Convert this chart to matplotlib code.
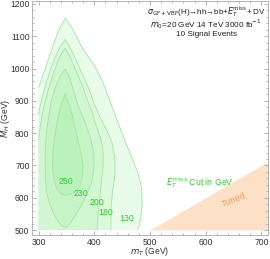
import matplotlib
matplotlib.use("Agg")
import matplotlib.pyplot as plt
from matplotlib.ticker import MultipleLocator

plt.rcParams['font.family'] = ['Liberation Sans', 'DejaVu Sans']
plt.rcParams['mathtext.fontset'] = 'dejavusans'

# ---- data: contour lines (mT, MH) ----
levels = [130, 180, 200, 230, 250]

# open contours: from left edge (mT=300) over the peak down to the bottom (MH=500)
mt_130 = [300, 308, 320, 334, 341, 348, 362, 380, 400, 415, 428, 440, 452, 466, 478, 485, 486, 483, 478]
mh_130 = [940, 980, 1040, 1110, 1135, 1156, 1120, 1060, 1010, 960, 900, 845, 790, 730, 680, 630, 580, 530, 500]

mt_180 = [300, 305, 313, 322, 331, 340, 348, 358, 370, 382, 392, 400, 410, 422, 432, 437, 437, 433, 430, 430]
mh_180 = [860, 900, 950, 1000, 1040, 1070, 1090, 1060, 1015, 970, 930, 890, 850, 810, 770, 720, 670, 620, 570, 500]

mt_200 = [300, 303, 308, 315, 324, 334, 342, 348, 358, 368, 378, 386, 395, 404, 412, 416, 416, 413, 410, 407, 405]
mh_200 = [780, 820, 870, 920, 970, 1020, 1050, 1063, 1030, 990, 950, 910, 870, 820, 780, 740, 700, 650, 600, 550, 500]

# closed contours
mt_230 = [348, 356, 363, 372, 384, 394, 399, 400, 396, 388, 378, 366, 356, 350,
          340, 330, 320, 314, 312, 312, 314, 318, 323, 330, 338]
mh_230 = [998, 970, 930, 880, 830, 780, 740, 700, 650, 615, 580, 545, 518, 508,
          515, 540, 580, 620, 680, 740, 800, 850, 900, 940, 975]

mt_250 = [348, 354, 360, 366, 372, 377, 380, 379, 374, 366, 356, 348,
          340, 332, 327, 325, 326, 330, 335, 341]
mh_250 = [921, 895, 860, 815, 770, 730, 700, 665, 635, 618, 610, 608,
          613, 630, 660, 700, 750, 800, 850, 890]

label_mt = [458, 421, 405, 376, 350]
label_mh = [537, 555, 586, 614, 651]

# tuned region: MH < mT, MH >= 500
tuned_mt = [500, 712]

fill_colors = ['#e9fbe9', '#dcf9dc', '#d1f6d1', '#c6f4c6', '#bbf1bb']
line_color = '#a0e8a0'

fig = plt.figure(figsize=(2.70, 2.59), dpi=100)
ax = fig.add_axes([0.120, 0.0927, 0.873, 0.902])

# tuned region
ax.fill_between(tuned_mt, [500, 500], tuned_mt, color='#fde1c6', lw=0, zorder=1)

open_sets = [(mt_130, mh_130), (mt_180, mh_180), (mt_200, mh_200)]
for (mt, mh), fc in zip(open_sets, fill_colors[:3]):
    ax.fill(list(mt) + [300], list(mh) + [500], color=fc, lw=0, zorder=2)
    ax.plot(mt, mh, color=line_color, lw=0.6, zorder=3)

closed_sets = [(mt_230, mh_230), (mt_250, mh_250)]
for (mt, mh), fc in zip(closed_sets, fill_colors[3:]):
    ax.fill(mt, mh, color=fc, lw=0, zorder=2)
    ax.plot(list(mt) + [mt[0]], list(mh) + [mh[0]], color=line_color, lw=0.6, zorder=3)

for lv, x, y in zip(levels, label_mt, label_mh):
    ax.text(x, y, str(lv), color='#2ecc2e', fontsize=6.3, ha='center', va='center', zorder=4)

ax.text(590, 648, r'$E_T^{\rm miss}$ Cut in GeV', color='#3acc3a', fontsize=6.3,
        ha='center', va='center', zorder=4)
ax.text(650, 592, 'Tuned', color='#f0a060', fontsize=6.6, rotation=22,
        ha='center', va='center', zorder=4)

ax.text(601, 1177, r'$\sigma_{\rm GF+VBF}$(H)→hh→bb+$E_T^{\rm miss}$+ DV', fontsize=5.8,
        ha='center', va='center', color='#222222')
ax.text(601, 1137, r'$m_0$=20 GeV 14 TeV 3000 fb$^{-1}$', fontsize=5.9,
        ha='center', va='center', color='#222222')
ax.text(601, 1106, '10 Signal Events', fontsize=5.9, ha='center', va='center', color='#222222')

ax.set_xlim(289, 712)
ax.set_ylim(484.6, 1208)
ax.xaxis.set_major_locator(MultipleLocator(100))
ax.xaxis.set_minor_locator(MultipleLocator(20))
ax.yaxis.set_major_locator(MultipleLocator(100))
ax.yaxis.set_minor_locator(MultipleLocator(20))
ax.tick_params(which='both', direction='in', top=True, right=True, colors='#999999',
               labelcolor='#333333', labelsize=6.2, width=0.5, pad=2)
ax.tick_params(which='major', length=3)
ax.tick_params(which='minor', length=1.5)
for s in ax.spines.values():
    s.set_color('#aaaaaa')
    s.set_linewidth(0.6)

fig.text(150 / 270, 1 - 252 / 259, r'$m_T$ (GeV)', fontsize=6.2, color='#333333',
         ha='center', va='center')
fig.text(5 / 270, 1 - 118 / 259, r'$M_H$ (GeV)', fontsize=6.2, color='#333333',
         ha='center', va='center', rotation=90)

fig.savefig('out.png', dpi=100)
